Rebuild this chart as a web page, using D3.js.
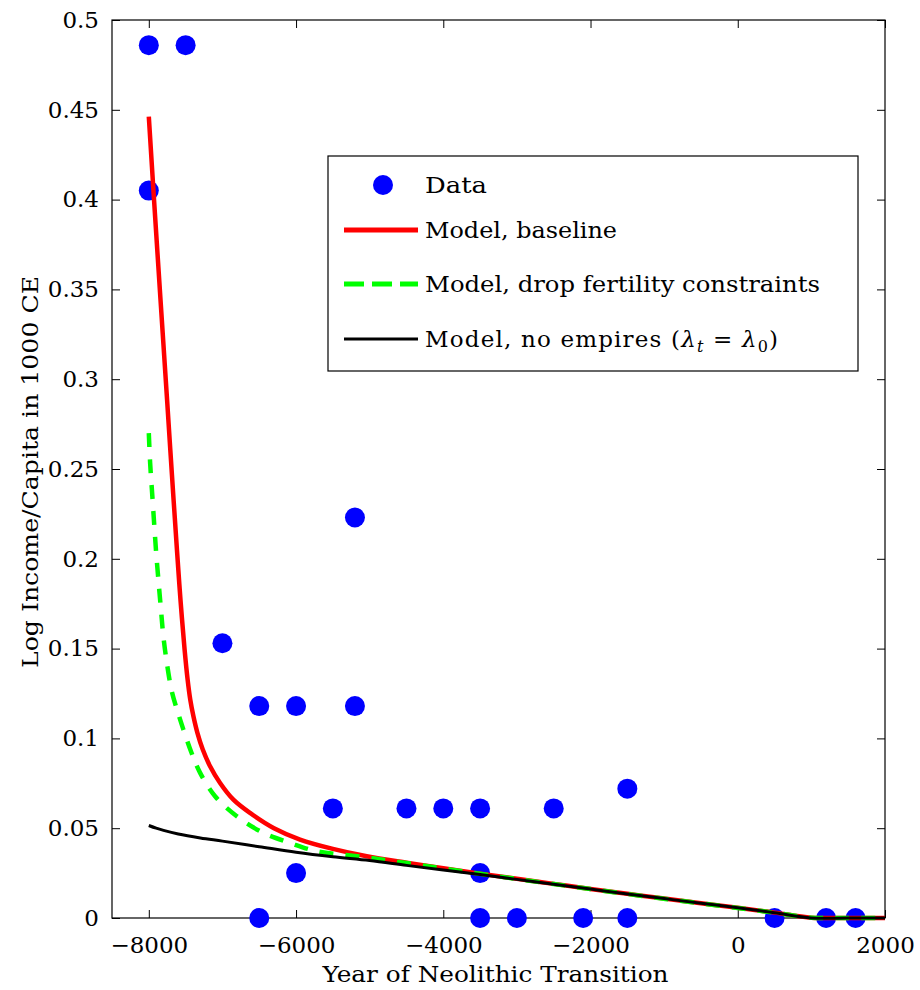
<!DOCTYPE html>
<html>
<head>
<meta charset="utf-8">
<script src="https://cdn.jsdelivr.net/npm/d3@7"></script>
<style>
  html, body { margin: 0; padding: 0; background: #fff; }
  svg { display: block; }
  svg text { font-family: 'DejaVu Serif', serif; fill: #000; }
</style>
</head>
<body>
<svg id="chart" width="920" height="990"></svg>
<script>
// ---------- data ----------
const dataYears  = [-8000, -7500, -8000, -7000, -6500, -6000, -5200, -5200, -5500, -6000, -6500, -4500, -4000, -3500, -3500, -3500, -3000, -2100, -1500, -1500, -2500, 500, 1200, 1600];
const dataValues = [0.486, 0.486, 0.405, 0.153, 0.118, 0.118, 0.223, 0.118, 0.061, 0.025, 0, 0.061, 0.061, 0.061, 0.025, 0, 0, 0, 0, 0.072, 0.061, 0, 0, 0];

const baselineYears  = [-8000, -7929, -7841, -7752, -7686, -7618, -7570, -7514, -7473, -7437, -7394, -7340, -7267, -7168, -7032, -6851, -6625, -6300, -5946, -5500, -5040, -4500, -4000, -3500, -3000, -2500, -2000, -1500, -1000, -500, 0, 500, 1000, 1500, 2000];
const baselineValues = [0.4462, 0.3998, 0.3442, 0.2886, 0.2469, 0.2051, 0.1773, 0.1495, 0.1328, 0.1216, 0.1123, 0.1031, 0.0938, 0.0845, 0.0752, 0.0659, 0.0585, 0.0500, 0.0437, 0.0385, 0.0344, 0.0308, 0.0277, 0.0247, 0.0218, 0.0190, 0.0162, 0.0135, 0.0108, 0.0082, 0.0057, 0.0030, 0.0002, 0, 0];

const noFertYears  = [-8000, -7982, -7955, -7928, -7901, -7870, -7837, -7802, -7747, -7684, -7600, -7530, -7420, -7303, -7100, -6805, -6444, -6081, -5719, -5040, -4500, -4000, -3500, -3000, -2500, -2000, -1500, -1000, -500, 0, 500, 1000, 1500, 2000];
const noFertValues = [0.270, 0.2534, 0.2367, 0.2200, 0.2039, 0.1884, 0.1728, 0.1567, 0.1399, 0.1255, 0.1138, 0.1049, 0.0920, 0.0808, 0.0678, 0.0567, 0.0474, 0.0418, 0.0372, 0.0338, 0.0306, 0.0276, 0.0246, 0.0217, 0.0189, 0.0161, 0.0134, 0.0107, 0.0081, 0.0056, 0.0029, 0.0002, 0, 0];

const noEmpYears  = [-8000, -7900, -7800, -7600, -7300, -7000, -6500, -6000, -5500, -5000, -4500, -4000, -3500, -3000, -2500, -2000, -1500, -1000, -500, 0, 500, 1000, 1500, 2000];
const noEmpValues = [0.0515, 0.0500, 0.0488, 0.0468, 0.0446, 0.0428, 0.0397, 0.0366, 0.0341, 0.0320, 0.0293, 0.0267, 0.0242, 0.0215, 0.0188, 0.0161, 0.0134, 0.0108, 0.0082, 0.0057, 0.0029, 0.0, 0, 0];

const xTickValues = [-8000, -6000, -4000, -2000, 0, 2000];
const xTickLabels = ["\u22128000", "\u22126000", "\u22124000", "\u22122000", "0", "2000"];
const yTickValues = [0, 0.05, 0.1, 0.15, 0.2, 0.25, 0.3, 0.35, 0.4, 0.45, 0.5];
const yTickLabels = ["0", "0.05", "0.1", "0.15", "0.2", "0.25", "0.3", "0.35", "0.4", "0.45", "0.5"];

const seriesNames = ["Data", "Model, baseline", "Model, drop fertility constraints", "Model, no empires"];
const xTitle = "Year of Neolithic Transition";
const yTitle = "Log Income/Capita in 1000 CE";

// ---------- layout ----------
const FS = 23;
const L = 112, R = 885, T = 20, B = 918;
const svg = d3.select("#chart");
const x = d3.scaleLinear().domain([-8500, 2000]).range([L, R]);
const y = d3.scaleLinear().domain([0, 0.5]).range([B, T]);

svg.append("rect").attr("x", L).attr("y", T).attr("width", R - L).attr("height", B - T)
  .attr("fill", "none").attr("stroke", "#000").attr("stroke-width", 1.2);

const tickLen = 8;
const fmtX = d => xTickLabels[xTickValues.indexOf(d)];
const fmtY = d => yTickLabels[yTickValues.findIndex(v => Math.abs(v - d) < 1e-9)];

const gx = svg.append("g").attr("transform", `translate(0,${B})`)
  .call(d3.axisBottom(x).tickValues(xTickValues).tickFormat(fmtX).tickSizeInner(-tickLen).tickSizeOuter(0).tickPadding(19));
gx.select(".domain").remove();
gx.selectAll("text").attr("font-size", FS);
const gxt = svg.append("g").attr("transform", `translate(0,${T})`)
  .call(d3.axisTop(x).tickValues(xTickValues).tickFormat("").tickSizeInner(-tickLen).tickSizeOuter(0));
gxt.select(".domain").remove();

const gy = svg.append("g").attr("transform", `translate(${L},0)`)
  .call(d3.axisLeft(y).tickValues(yTickValues).tickFormat(fmtY).tickSizeInner(-tickLen).tickSizeOuter(0).tickPadding(13));
gy.select(".domain").remove();
gy.selectAll("text").attr("font-size", FS);
const gyr = svg.append("g").attr("transform", `translate(${R},0)`)
  .call(d3.axisRight(y).tickValues(yTickValues).tickFormat("").tickSizeInner(-tickLen).tickSizeOuter(0));
gyr.select(".domain").remove();

svg.selectAll(".tick line").attr("stroke", "#000").attr("stroke-width", 1);

svg.append("text").attr("x", (L + R) / 2 - 3).attr("y", 982).attr("text-anchor", "middle")
  .attr("font-size", FS).attr("textLength", 346).attr("lengthAdjust", "spacingAndGlyphs").text(xTitle);
svg.append("text").attr("transform", `translate(38,${(T + B) / 2 + 3}) rotate(-90)`).attr("text-anchor", "middle")
  .attr("font-size", FS).attr("textLength", 392).attr("lengthAdjust", "spacingAndGlyphs").text(yTitle);

svg.append("g").selectAll("circle").data(dataYears.map((d, i) => [d, dataValues[i]]))
  .join("circle").attr("cx", d => x(d[0])).attr("cy", d => y(d[1])).attr("r", 10).attr("fill", "#0000ff");

const line = d3.line().x(d => x(d[0])).y(d => y(d[1])).curve(d3.curveCatmullRom.alpha(0.5));
const zip = (a, b) => a.map((d, i) => [d, b[i]]);

svg.append("path").datum(zip(baselineYears, baselineValues)).attr("d", line)
  .attr("fill", "none").attr("stroke", "#ff0000").attr("stroke-width", 4.5);
svg.append("path").datum(zip(noFertYears, noFertValues)).attr("d", line)
  .attr("fill", "none").attr("stroke", "#00ff00").attr("stroke-width", 4.5).attr("stroke-dasharray", "14,12");
svg.append("path").datum(zip(noEmpYears, noEmpValues)).attr("d", line)
  .attr("fill", "none").attr("stroke", "#000").attr("stroke-width", 3);

const lg = svg.append("g");
lg.append("rect").attr("x", 328).attr("y", 156).attr("width", 530).attr("height", 215)
  .attr("fill", "#fff").attr("stroke", "#000").attr("stroke-width", 1.2);
const rowY = [185, 230, 284, 339];
lg.append("circle").attr("cx", 383).attr("cy", rowY[0]).attr("r", 10).attr("fill", "#0000ff");
lg.append("line").attr("x1", 344).attr("x2", 418).attr("y1", rowY[1]).attr("y2", rowY[1]).attr("stroke", "#ff0000").attr("stroke-width", 5);
lg.append("line").attr("x1", 344).attr("x2", 418).attr("y1", rowY[2]).attr("y2", rowY[2]).attr("stroke", "#00ff00").attr("stroke-width", 5).attr("stroke-dasharray", "20,8");
lg.append("line").attr("x1", 344).attr("x2", 418).attr("y1", rowY[3]).attr("y2", rowY[3]).attr("stroke", "#000").attr("stroke-width", 3);

const textLens = [62, 192, 395];
for (let i = 0; i < 3; i++) {
  lg.append("text").attr("x", 425).attr("y", rowY[i] + 8).attr("font-size", FS)
    .attr("textLength", textLens[i]).attr("lengthAdjust", "spacingAndGlyphs").text(seriesNames[i]);
}
const t4 = lg.append("text").attr("x", 425).attr("y", rowY[3] + 8).attr("font-size", FS)
  .attr("textLength", 353).attr("lengthAdjust", "spacing");
t4.append("tspan").text(seriesNames[3] + " (");
t4.append("tspan").attr("font-style", "italic").text("\u03bb");
t4.append("tspan").attr("font-style", "italic").attr("font-size", 16).attr("dy", 5).text("t");
t4.append("tspan").attr("dy", -5).text(" = ");
t4.append("tspan").attr("font-style", "italic").text("\u03bb");
t4.append("tspan").attr("font-size", 16).attr("dy", 5).text("0");
t4.append("tspan").attr("dy", -5).text(")");
</script>
</body>
</html>
